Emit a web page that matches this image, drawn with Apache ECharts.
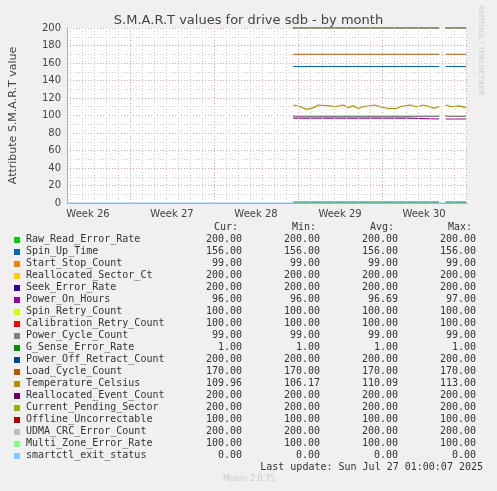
<!DOCTYPE html><html><head><meta charset="utf-8"><script src="https://cdn.jsdelivr.net/npm/echarts@6/dist/echarts.min.js"></script>
<style>html,body{margin:0;background:#f0f0f0}#c{width:497px;height:491px}</style></head><body><div id="c"></div><script>
const names=["Raw_Read_Error_Rate","Spin_Up_Time","Start_Stop_Count","Reallocated_Sector_Ct","Seek_Error_Rate","Power_On_Hours","Spin_Retry_Count","Calibration_Retry_Count","Power_Cycle_Count","G_Sense_Error_Rate","Power_Off_Retract_Count","Load_Cycle_Count","Temperature_Celsius","Reallocated_Event_Count","Current_Pending_Sector","Offline_Uncorrectable","UDMA_CRC_Error_Count","Multi_Zone_Error_Rate","smartctl_exit_status"];
const colors=["#00cc00","#0066b3","#ff8000","#ffcc00","#330099","#990099","#ccff00","#ff0000","#808080","#008f00","#00487d","#b35a00","#b38f00","#6b006b","#8fb300","#b30000","#bebebe","#80ff80","#80c9ff"];
const cur=["200.00","156.00","99.00","200.00","200.00","96.00","100.00","100.00","99.00","1.00","200.00","170.00","109.96","200.00","200.00","100.00","200.00","100.00","0.00"];
const mins=["200.00","156.00","99.00","200.00","200.00","96.00","100.00","100.00","99.00","1.00","200.00","170.00","106.17","200.00","200.00","100.00","200.00","100.00","0.00"];
const avgs=["200.00","156.00","99.00","200.00","200.00","96.69","100.00","100.00","99.00","1.00","200.00","170.00","110.09","200.00","200.00","100.00","200.00","100.00","0.00"];
const maxs=["200.00","156.00","99.00","200.00","200.00","97.00","100.00","100.00","99.00","1.00","200.00","170.00","113.00","200.00","200.00","100.00","200.00","100.00","0.00"];
const levels=[200,156,99,200,200,null,100,100,99,1,200,170,null,200,200,100,200,100,0];
// time in days since start of week 26
const segA=[20.6,32.75], segB=[33.3,35.0];
const powerOn=[[20.6,97],[30.1,97],[30.1,96],[32.75,96],[33.0,null],[33.3,96],[35.0,96]];
const temp=[[20.6,112],[21.2,110],[21.7,107],[22.3,109],[22.7,112],[23.7,111],[24.0,110],[24.8,112],[25.2,109],[25.6,111],[26.0,108],[26.4,110],[27.4,112],[27.8,110],[28.5,108],[29.2,108],[29.5,110],[30.3,112],[30.9,110],[31.4,112],[32.0,110],[32.3,108.5],[32.75,110],[33.0,null],[33.3,112],[33.8,110],[34.4,111],[35.0,109]];
const weekLabels=["Week 26","Week 27","Week 28","Week 29","Week 30"];
const weekCenters=[3.5,10.5,17.5,24.5,31.5];
const weekBounds=[7,14,21,28,35];
const XMIN=1.75,XMAX=35.08;
const days=[];for(let d=2;d<=35;d++)days.push(d);

const series=names.map((n,i)=>{
  let data;
  if(i===5)data=powerOn;else if(i===12)data=temp;
  else if(i===18)data=[[XMIN,0],[35.0,0]];
  else{const v=levels[i];data=[[segA[0],v],[segA[1],v],[33.0,null],[segB[0],v],[segB[1],v]];}
  return {type:'line',name:n,data,showSymbol:false,connectNulls:false,lineStyle:{width:1.2,color:colors[i]},itemStyle:{color:colors[i]},animation:false,z:3+i*0.01};
});
series.push({type:'line',data:[],markLine:{silent:true,symbol:'none',label:{show:false},animation:false,
 data:days.filter(d=>!weekBounds.includes(d)).map(d=>({xAxis:d,lineStyle:{color:'#ccc',type:[1,2],width:1}})).concat(weekBounds.map(d=>({xAxis:d,lineStyle:{color:'#e8a0a0',type:[1,2],width:1}})))},z:1});

const g=[];
const fm='"DejaVu Sans Mono",monospace';
const cols=[242,320,398,476];
["Cur:","Min:","Avg:","Max:"].forEach((h,k)=>g.push({type:'text',right:497-cols[k]+4,top:222,style:{text:h,font:'10px '+fm,fill:'#333'}}));
names.forEach((n,i)=>{const y=234+i*12;
 g.push({type:'rect',shape:{x:14,y:y+3,width:6,height:6},style:{fill:colors[i]}});
 g.push({type:'text',left:26,top:y,style:{text:n,font:'10px '+fm,fill:'#333'}});
 [cur,mins,avgs,maxs].forEach((a,k)=>g.push({type:'text',right:497-cols[k],top:y,style:{text:a[i],font:'10px '+fm,fill:'#333'}}));
});
g.push({type:'text',right:14,top:462,style:{text:'Last update: Sun Jul 27 01:00:07 2025',font:'10px '+fm,fill:'#333'}});
g.push({type:'text',left:223,top:475,style:{text:'Munin 2.0.75',font:'8px "DejaVu Sans"',fill:'#ccc'}});
g.push({type:'text',x:484,y:5,rotation:-Math.PI/2,style:{text:'RRDTOOL / TOBI OETIKER',font:'7px "DejaVu Sans"',fill:'#ccc'}});

const chart=echarts.init(document.getElementById('c'));
chart.setOption({backgroundColor:'#f0f0f0',animation:false,
 title:{text:'S.M.A.R.T values for drive sdb - by month',left:'center',top:9,textStyle:{fontFamily:'DejaVu Sans',fontSize:13,fontWeight:'normal',color:'#444'}},
 grid:{left:67,right:30,top:28,bottom:288,backgroundColor:'#fff',show:true,borderWidth:0},
 xAxis:{type:'value',min:XMIN,max:XMAX,splitLine:{show:false},axisTick:{show:false},
  axisLine:{lineStyle:{color:'#aab'}},
  axisLabel:{customValues:weekCenters,formatter:v=>weekLabels[weekCenters.indexOf(v)],color:'#444',fontFamily:'DejaVu Sans',fontSize:10,margin:6}},
 yAxis:{type:'value',min:0,max:200,interval:20,name:'Attribute S.M.A.R.T value',nameLocation:'middle',nameGap:48,
  nameTextStyle:{fontFamily:'DejaVu Sans',fontSize:11,color:'#444'},
  axisLine:{show:true,lineStyle:{color:'#aab'}},axisTick:{show:false},
  axisLabel:{color:'#444',fontFamily:'DejaVu Sans',fontSize:10,margin:6},
  splitLine:{lineStyle:{color:'#e8a0a0',type:[1,2]}},
  minorTick:{show:false,splitNumber:2},minorSplitLine:{show:true,lineStyle:{color:'#ccc',type:[1,2]}}},
 series,graphic:g});
</script></body></html>
